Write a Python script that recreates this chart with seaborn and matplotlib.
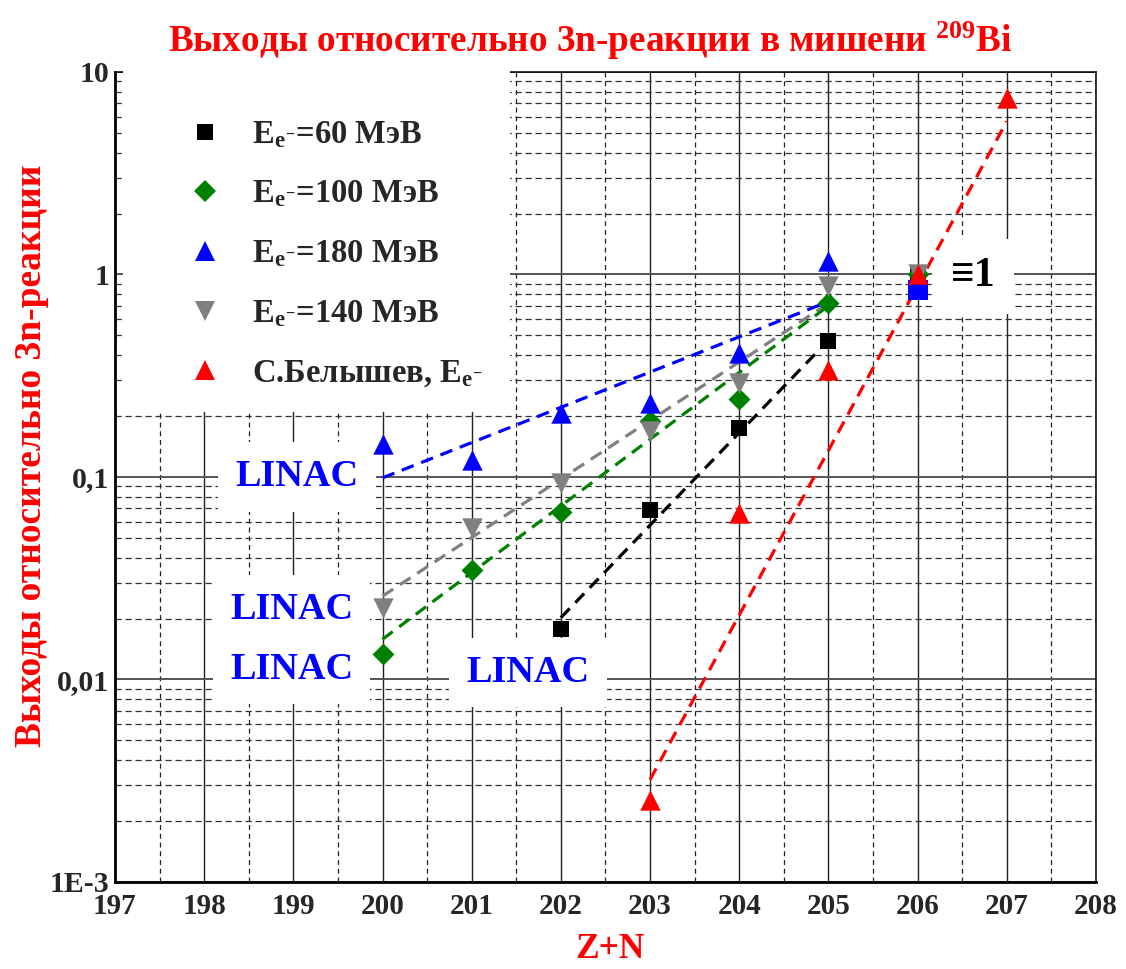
import matplotlib
matplotlib.use('Agg')
import matplotlib.pyplot as plt
import seaborn as sns
from matplotlib.lines import Line2D
from matplotlib.patches import Rectangle
from matplotlib.ticker import FixedLocator, LogLocator, NullFormatter

# ---------------- data ----------------
x_ticks = [197, 198, 199, 200, 201, 202, 203, 204, 205, 206, 207, 208]
y_ticks = [1e-3, 1e-2, 1e-1, 1, 10]
y_tick_labels = ["1E-3", "0,01", "0,1", "1", "10"]

x60 = [202, 203, 204, 205, 206]
y60 = [0.0178, 0.069, 0.175, 0.469, 1.0]
x100 = [200, 201, 202, 203, 204, 205, 206]
y100 = [0.0133, 0.0347, 0.067, 0.189, 0.243, 0.725, 1.0]
x180 = [200, 201, 202, 203, 204, 205]
y180 = [0.145, 0.121, 0.207, 0.232, 0.41, 1.16]
x140 = [200, 201, 202, 203, 204, 205, 206]
y140 = [0.0226, 0.0561, 0.0936, 0.168, 0.292, 0.875, 1.0]
xbel = [203, 204, 205, 206, 207]
ybel = [0.00255, 0.0666, 0.337, 1.0, 7.46]
x_norm_sq = [206]
y_norm_sq = [0.843]

# fitted trend lines (end points)
fit60_x, fit60_y = [202, 204.9], [0.0202, 0.426]
fit100_x, fit100_y = [200, 205], [0.0158, 0.70]
fit180_x, fit180_y = [200, 205], [0.099, 0.735]
fit140_x, fit140_y = [200, 205], [0.0258, 0.72]
fitbel_x, fitbel_y = [203, 207], [0.0032, 5.71]

labels = [r"E$_{e^{-}}$=60 МэВ", r"E$_{e^{-}}$=100 МэВ", r"E$_{e^{-}}$=180 МэВ",
          r"E$_{e^{-}}$=140 МэВ", r"С.Белышев, E$_{e^{-}}$"]

# ---------------- style ----------------
sns.set_theme(style="white")
plt.rcParams['font.family'] = ['Liberation Serif', 'DejaVu Serif']
plt.rcParams['font.weight'] = 'bold'
plt.rcParams['mathtext.fontset'] = 'custom'
plt.rcParams['mathtext.rm'] = 'Liberation Serif:bold'
plt.rcParams['mathtext.it'] = 'Liberation Serif:bold'
plt.rcParams['mathtext.bf'] = 'Liberation Serif:bold'

fig = plt.figure(figsize=(11.26, 9.69), dpi=100)
ax = fig.add_axes([0.1021, 0.0898, 0.8712, 0.8359])
ax.set_yscale('log')
ax.set_xlim(197, 208)
ax.set_ylim(1e-3, 10)

# grid
ax.xaxis.set_major_locator(FixedLocator(x_ticks))
ax.xaxis.set_minor_locator(FixedLocator([v + 0.5 for v in x_ticks[:-1]]))
ax.yaxis.set_major_locator(FixedLocator(y_ticks))
ax.yaxis.set_minor_locator(LogLocator(base=10, subs=[2, 3, 4, 5, 6, 7, 8, 9]))
ax.yaxis.set_minor_formatter(NullFormatter())
ax.set_xticklabels([str(v) for v in x_ticks])
ax.set_yticklabels(y_tick_labels)

ax.xaxis.grid(True, which='major', color='#222222', lw=1.0, ls='-')
ax.xaxis.grid(True, which='minor', color='#222222', lw=0.9, ls=(0, (4, 3)))
ax.yaxis.grid(True, which='major', color='#555555', lw=1.4, ls='-')
ax.yaxis.grid(True, which='minor', color='#333333', lw=0.9, ls=(0, (5, 3)))

ax.tick_params(axis='x', which='both', length=0, labelsize=21, pad=8)
ax.tick_params(axis='y', which='major', direction='in', length=6, width=1.2,
               labelsize=21.5, pad=4, color='black')
ax.tick_params(axis='y', which='minor', direction='in', length=3, width=0.8,
               color='#555555')
for lab in ax.get_xticklabels() + ax.get_yticklabels():
    lab.set_fontweight('bold')

for side, lw in [('left', 2.0), ('bottom', 2.0), ('top', 1.1), ('right', 1.1)]:
    ax.spines[side].set_linewidth(lw)
    ax.spines[side].set_color('black')
    ax.spines[side].set_visible(True)

# fitted lines
dash = (0, (4, 2.5))
for fx, fy, c in [(fit180_x, fit180_y, 'blue'), (fit140_x, fit140_y, 'gray'),
                  (fit100_x, fit100_y, 'green'), (fit60_x, fit60_y, 'black'),
                  (fitbel_x, fitbel_y, 'red')]:
    sns.lineplot(x=fx, y=fy, color=c, lw=2.3, linestyle=dash, ax=ax,
                 estimator=None, sort=False, zorder=4)

# data points
s_sq, s_dia, s_tri = 128, 125, 215
sns.scatterplot(x=x60, y=y60, marker='s', color='black', s=s_sq, linewidth=0, ax=ax, zorder=5)
sns.scatterplot(x=x100, y=y100, marker='D', color='green', s=s_dia, linewidth=0, ax=ax, zorder=5)
sns.scatterplot(x=x140, y=y140, marker='v', color='gray', s=s_tri, linewidth=0, ax=ax, zorder=5)
sns.scatterplot(x=x180, y=y180, marker='^', color='blue', s=s_tri, linewidth=0, ax=ax, zorder=5)
sns.scatterplot(x=x_norm_sq, y=y_norm_sq, marker='s', color='blue', s=190, linewidth=0, ax=ax, zorder=5)
sns.scatterplot(x=xbel, y=ybel, marker='^', color='red', s=s_tri, linewidth=0, ax=ax, zorder=6)

# white legend area
ax.add_patch(Rectangle((0.008, 0.580), 0.395, 0.428, transform=ax.transAxes,
                       facecolor='white', edgecolor='none', zorder=2.6, clip_on=False))

handles = [
    Line2D([], [], marker='s', color='black', ls='none', markersize=11.3, markeredgewidth=0),
    Line2D([], [], marker='D', color='green', ls='none', markersize=11.2, markeredgewidth=0),
    Line2D([], [], marker='^', color='blue', ls='none', markersize=14.6, markeredgewidth=0),
    Line2D([], [], marker='v', color='gray', ls='none', markersize=14.6, markeredgewidth=0),
    Line2D([], [], marker='^', color='red', ls='none', markersize=14.6, markeredgewidth=0),
]
leg = ax.legend(handles=handles, labels=labels, loc='upper left',
                bbox_to_anchor=(0.075, 0.942), frameon=False, fontsize=23.5,
                handlelength=1.0, handletextpad=0.95, labelspacing=0.88,
                borderpad=0, borderaxespad=0)
leg.set_zorder(7)
for t in leg.get_texts():
    t.set_fontweight('bold')

# annotations
def boxed(x, y, s, color, size):
    ax.text(x, y, s, color=color, fontsize=size, fontweight='bold',
            ha='center', va='center', zorder=3.5,
            bbox=dict(boxstyle='square,pad=0.45', facecolor='white', edgecolor='none'))

boxed(199.04, 0.100, 'LINAC', 'blue', 27.5)
boxed(198.98, 0.0222, 'LINAC', 'blue', 27.5)
boxed(198.98, 0.0112, 'LINAC', 'blue', 27.5)
boxed(201.63, 0.0108, 'LINAC', 'blue', 27.5)
boxed(206.62, 0.98, '≡1', 'black', 30)

# titles
fig.text(0.524, 0.958, r"Выходы относительно 3n-реакции в мишени $^{209}$Bi",
         color='red', fontsize=26.8, fontweight='bold', ha='center', va='center')
fig.text(0.028, 0.530, "Выходы относительно 3n-реакции", color='red', fontsize=27,
         fontweight='bold', rotation=90, ha='center', va='center')
fig.text(0.542, 0.020, "Z+N", color='red', fontsize=25.5, fontweight='bold',
         ha='center', va='center')

fig.savefig('out.png', dpi=100)
